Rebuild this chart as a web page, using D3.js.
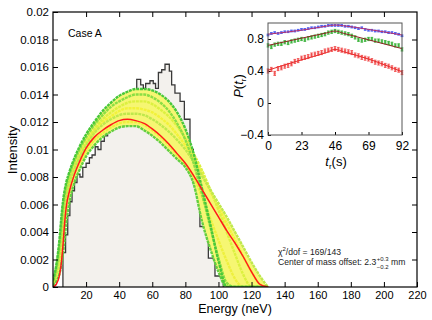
<!DOCTYPE html>
<html>
<head>
<meta charset="utf-8">
<script src="https://cdn.jsdelivr.net/npm/d3@7"></script>
<style>
  body { margin: 0; background: #fff; }
  svg { display: block; font-family: "Liberation Sans", Arial, Helvetica, sans-serif; }
</style>
</head>
<body>
<div id="chart"></div>
<script>
// ---- main plot data ----
var xTicks = [0, 20, 40, 60, 80, 100, 120, 140, 160, 180, 200, 220];
var yTicks = [0, 0.002, 0.004, 0.006, 0.008, 0.01, 0.012, 0.014, 0.016, 0.018, 0.02];
var yTickLabels = ["0", "0.002", "0.004", "0.006", "0.008", "0.01", "0.012", "0.014", "0.016", "0.018", "0.02"];

// measured histogram: bin edges (neV) and intensity per bin
var binEdges = [6, 7.6, 8.9, 10.2, 11.5, 13, 14.5, 16.3, 18, 20, 22, 23.6, 25.5, 27.2, 29, 31, 33, 35, 37, 39, 41, 43, 45, 47, 49,
  50.6, 53, 54.6, 56, 58.6, 60.6, 62, 63.7, 65.7, 67.7, 70.3, 71.7, 73.7, 76.8, 79.4, 82.8, 84.8, 88.8, 93.9, 97.9, 102.9];
var binValues = [0.0025, 0.0038, 0.0052, 0.0062, 0.0070, 0.0076, 0.0082, 0.0080, 0.0087, 0.0090, 0.0094, 0.0096, 0.0102, 0.0100,
  0.0106, 0.0110, 0.0114, 0.0118, 0.0123, 0.0127, 0.0131, 0.0134, 0.0138, 0.0140,
  0.0143, 0.0151, 0.0147, 0.01445, 0.0148, 0.0150, 0.0148, 0.01445, 0.0156, 0.0158, 0.0162, 0.0157, 0.0147, 0.0141, 0.0135,
  0.0122, 0.0100, 0.0076, 0.0044, 0.0021, 0.0008];

// simulated spectra (band of fits), sampled at these energies
var bandE = [0, 2, 4, 5, 6, 7, 8, 10, 13, 16, 20, 25, 30, 35, 40, 45, 50, 55, 60, 65, 70, 75, 80, 85, 90, 95, 100, 105, 110, 115, 120, 125, 130];
var yMid = [0.0003, 0.0011, 0.0026, 0.0037, 0.0050, 0.0060, 0.0067, 0.0077, 0.0087, 0.0095, 0.0104, 0.0113, 0.0120, 0.0124, 0.0128, 0.0130, 0.0130, 0.0129, 0.0127, 0.0123, 0.0118, 0.0111, 0.0103, 0.0093, 0.0082, 0.0070, 0.0058, 0.0046, 0.0034, 0.0022, 0.0011, 0.0002, 0];
var yHigh = [0.0003, 0.0012, 0.0028, 0.0040, 0.0053, 0.0063, 0.0070, 0.0079, 0.0089, 0.0097, 0.0106, 0.0115, 0.0122, 0.0127, 0.0131, 0.0134, 0.0135, 0.0135, 0.0133, 0.0129, 0.0124, 0.0117, 0.0108, 0.0097, 0.0085, 0.0071, 0.0056, 0.0040, 0.0024, 0.0009, 0, 0, 0];
var yLow = [0.0002, 0.0008, 0.0020, 0.0030, 0.0042, 0.0054, 0.0062, 0.0072, 0.0083, 0.0090, 0.0099, 0.0107, 0.0112, 0.0116, 0.0119, 0.0120, 0.0120, 0.0118, 0.0114, 0.0109, 0.0103, 0.0096, 0.0089, 0.0080, 0.0066, 0.0050, 0.0034, 0.0019, 0.0006, 0, 0, 0, 0];
var yLate = [0.0002, 0.0010, 0.0024, 0.0035, 0.0048, 0.0058, 0.0065, 0.0075, 0.0086, 0.0094, 0.0103, 0.0112, 0.0118, 0.0122, 0.0125, 0.0126, 0.0126, 0.0125, 0.0122, 0.0118, 0.0113, 0.0107, 0.0100, 0.0091, 0.0081, 0.0071, 0.0061, 0.0051, 0.0040, 0.0029, 0.0018, 0.0008, 0];
var gMid = [0.0004, 0.0014, 0.0032, 0.0045, 0.0058, 0.0067, 0.0073, 0.0082, 0.0092, 0.0100, 0.0109, 0.0118, 0.0125, 0.0131, 0.0135, 0.0138, 0.0140, 0.0140, 0.0138, 0.0134, 0.0128, 0.0119, 0.0107, 0.0090, 0.0068, 0.0044, 0.0021, 0.0003, 0, 0, 0, 0, 0];
var gLow = [0.0001, 0.0004, 0.0010, 0.0016, 0.0024, 0.0034, 0.0046, 0.0062, 0.0076, 0.0085, 0.0095, 0.0103, 0.0109, 0.0113, 0.0116, 0.0117, 0.0117, 0.0114, 0.0110, 0.0105, 0.0099, 0.0093, 0.0087, 0.0075, 0.0048, 0.0028, 0.0011, 0, 0, 0, 0, 0, 0];
var gHigh = [0.0005, 0.0016, 0.0036, 0.0050, 0.0062, 0.0070, 0.0076, 0.0084, 0.0094, 0.0102, 0.0111, 0.0120, 0.0128, 0.0134, 0.0139, 0.0142, 0.0144, 0.0144, 0.0143, 0.0140, 0.0135, 0.0127, 0.0115, 0.0097, 0.0072, 0.0046, 0.0019, 0, 0, 0, 0, 0, 0];
var bestFit = [0, 0.0002, 0.0009, 0.0017, 0.0030, 0.0046, 0.0058, 0.0070, 0.0082, 0.0091, 0.0101, 0.0109, 0.0114, 0.0118, 0.0121, 0.0122, 0.0121, 0.0119, 0.0115, 0.0110, 0.0104, 0.0097, 0.0090, 0.0081, 0.0071, 0.0061, 0.0051, 0.0041, 0.0032, 0.0022, 0.0011, 0.0002, 0];

// ---- inset data ----
var insetXTicks = [0, 23, 46, 69, 92];
var insetYTicks = [-0.4, 0, 0.4, 0.8];
var insetYLabels = ["\u22120.4", "0", "0.4", "0.8"];
var tSec = [0, 2.3, 4.6, 6.9, 9.2, 11.5, 13.8, 16.1, 18.4, 20.7, 23, 25.3, 27.6, 29.9, 32.2, 34.5, 36.8, 39.1, 41.4, 43.7, 46,
  48.3, 50.6, 52.9, 55.2, 57.5, 59.8, 62.1, 64.4, 66.7, 69, 71.3, 73.6, 75.9, 78.2, 80.5, 82.8, 85.1, 87.4, 89.7, 92];
var pBlue = [0.85, 0.87, 0.88, 0.87, 0.88, 0.89, 0.89, 0.90, 0.90, 0.91, 0.92, 0.92, 0.93, 0.94, 0.94, 0.95, 0.96, 0.96, 0.97, 0.97, 0.97,
  0.97, 0.97, 0.96, 0.96, 0.95, 0.94, 0.93, 0.94, 0.92, 0.91, 0.91, 0.90, 0.90, 0.89, 0.89, 0.88, 0.88, 0.87, 0.86, 0.84];
var pGreen = [0.72, 0.70, 0.73, 0.74, 0.74, 0.76, 0.75, 0.77, 0.78, 0.79, 0.80, 0.79, 0.81, 0.82, 0.83, 0.84, 0.85, 0.86, 0.88, 0.89, 0.90,
  0.89, 0.88, 0.87, 0.86, 0.84, 0.82, 0.79, 0.78, 0.79, 0.80, 0.80, 0.78, 0.78, 0.77, 0.76, 0.75, 0.74, 0.72, 0.72, 0.67];
var pRed = [0.40, 0.42, 0.37, 0.43, 0.44, 0.46, 0.47, 0.49, 0.52, 0.53, 0.56, 0.57, 0.58, 0.60, 0.61, 0.62, 0.63, 0.65, 0.66, 0.67, 0.68,
  0.67, 0.66, 0.65, 0.64, 0.63, 0.60, 0.59, 0.57, 0.56, 0.55, 0.53, 0.51, 0.50, 0.49, 0.47, 0.46, 0.44, 0.42, 0.41, 0.38];
var errBlue = 0.01, errGreen = 0.02, errRed = 0.025;
var fitT = [0, 23, 40, 46, 52, 69, 92];
var fitBlue = [0.86, 0.91, 0.96, 0.975, 0.965, 0.92, 0.85];
var fitGreen = [0.72, 0.81, 0.875, 0.90, 0.87, 0.79, 0.68];
var fitRed = [0.41, 0.54, 0.63, 0.67, 0.64, 0.55, 0.39];

var width = 432, height = 320;
var svg = d3.select("#chart").append("svg")
    .attr("width", width)
    .attr("height", height);

var x = d3.scaleLinear().domain([0, 220]).range([53, 417]);
var y = d3.scaleLinear().domain([0, 0.02]).range([287, 12]);

var plot = svg.append("g");

// clip to frame
svg.append("clipPath").attr("id", "frame")
  .append("rect").attr("x", 53).attr("y", 12).attr("width", 364).attr("height", 275);

// histogram
var histPts = [[binEdges[0], 0]];
binValues.forEach(function(v, i) { histPts.push([binEdges[i], v]); });
histPts.push([binEdges[binEdges.length - 1], 0]);

plot.append("path")
    .datum(histPts)
    .attr("fill", "#f3f1ed")
    .attr("d", d3.area().curve(d3.curveStepAfter)
      .x(function(d) { return x(d[0]); })
      .y0(y(0))
      .y1(function(d) { return y(d[1]); }));
plot.append("path")
    .datum(histPts)
    .attr("fill", "none")
    .attr("stroke", "#3a3a3a")
    .attr("stroke-width", 1.3)
    .attr("d", d3.line().curve(d3.curveStepAfter)
      .x(function(d) { return x(d[0]); })
      .y(function(d) { return y(d[1]); }));

// band of fits
var band = [
  { v: yMid, c: "#f2f23a" },
  { v: yHigh, c: "#dcf040" },
  { v: yLow, c: "#eef03e" },
  { v: yLate, c: "#bfe84c" },
  { v: gMid, c: "#8ade44" },
  { v: gLow, c: "#62cf40" },
  { v: gHigh, c: "#48c83a" }
];

var bandG = plot.append("g").attr("clip-path", "url(#frame)");

bandG.append("path")
    .datum(bandE)
    .attr("fill", "#f6f672")
    .attr("d", d3.area().curve(d3.curveMonotoneX)
      .x(function(d) { return x(d); })
      .y0(function(d, i) { return y(d3.min(band, function(b) { return b.v[i]; })); })
      .y1(function(d, i) { return y(d3.max(band, function(b) { return b.v[i]; })); }));

var bandLine = function(vals) {
  return d3.line().curve(d3.curveMonotoneX)
    .x(function(d) { return x(d); })
    .y(function(d, i) { return y(vals[i]); })(bandE);
};

bandG.selectAll(".fitcurve")
    .data(band)
    .enter().append("path")
    .attr("class", "fitcurve")
    .attr("fill", "none")
    .attr("stroke", function(d) { return d.c; })
    .attr("stroke-width", 2.4)
    .attr("stroke-dasharray", "3,0.8")
    .attr("d", function(d) { return bandLine(d.v); });

bandG.append("path")
    .attr("fill", "none")
    .attr("stroke", "#ff1a1a")
    .attr("stroke-width", 1.5)
    .attr("d", bandLine(bestFit));

// axes (ticks inward)
var axisFont = function(g, size) {
  g.select(".domain").remove();
  g.selectAll("text").attr("font-size", size).attr("fill", "#000")
    .attr("font-family", "'Liberation Sans', Arial, Helvetica, sans-serif");
  g.selectAll("line").attr("stroke", "#000");
};

svg.append("g")
    .attr("transform", "translate(0,287)")
    .call(d3.axisBottom(x).tickValues(xTicks.slice(1)).tickSize(-5).tickPadding(4))
    .call(axisFont, 11);
svg.append("g")
    .attr("transform", "translate(0,12)")
    .call(d3.axisTop(x).tickValues(xTicks.slice(1, -1)).tickSize(-5).tickFormat(""))
    .call(axisFont, 11);
svg.append("g")
    .attr("transform", "translate(53,0)")
    .call(d3.axisLeft(y).tickValues(yTicks).tickSize(-5).tickPadding(4)
      .tickFormat(function(d, i) { return yTickLabels[i]; }))
    .call(axisFont, 11.5);
svg.append("g")
    .attr("transform", "translate(417,0)")
    .call(d3.axisRight(y).tickValues(yTicks.slice(1, -1)).tickSize(-5).tickFormat(""))
    .call(axisFont, 11);

svg.append("rect")
    .attr("x", 53).attr("y", 12).attr("width", 364).attr("height", 275)
    .attr("fill", "none").attr("stroke", "#000").attr("stroke-width", 1.2);

// axis titles
svg.append("text")
    .attr("x", 235).attr("y", 313)
    .attr("text-anchor", "middle")
    .attr("font-size", 12.5)
    .text("Energy (neV)");
svg.append("text")
    .attr("transform", "translate(17,150) rotate(-90)")
    .attr("text-anchor", "middle")
    .attr("font-size", 13)
    .text("Intensity");

svg.append("text")
    .attr("x", 68).attr("y", 37)
    .attr("font-size", 10.5)
    .text("Case A");

// fit summary
var note = svg.append("g").attr("font-size", 8.6).attr("fill", "#222");
var chi = note.append("text").attr("x", 278).attr("y", 255);
chi.append("tspan").text("\u03c7");
chi.append("tspan").attr("font-size", 6).attr("dy", -3.8).text("2");
chi.append("tspan").attr("dy", 3.8).text("/dof = 169/143");

var com = note.append("text").attr("x", 278).attr("y", 265).text("Center of mass offset: 2.3");
var comX = 278 + com.node().getComputedTextLength() + 0.5;
var sup = note.append("text").attr("x", comX).attr("y", 260.8).attr("font-size", 6).text("+0.3");
var sub = note.append("text").attr("x", comX).attr("y", 268.8).attr("font-size", 6).text("\u22120.2");
var scriptW = Math.max(sup.node().getComputedTextLength(), sub.node().getComputedTextLength());
note.append("text").attr("x", comX + scriptW + 2.5).attr("y", 265).text("mm");

// ---- inset ----
var ix = d3.scaleLinear().domain([0, 92]).range([268, 402]);
var iy = d3.scaleLinear().domain([-0.4, 1.0]).range([135, 23]);
var inset = svg.append("g");

inset.append("rect")
    .attr("x", 268).attr("y", 23).attr("width", 134).attr("height", 112)
    .attr("fill", "#fff");

inset.append("g")
    .attr("transform", "translate(0,135)")
    .call(d3.axisBottom(ix).tickValues(insetXTicks).tickSize(-3).tickPadding(6))
    .call(axisFont, 12);
inset.append("g")
    .attr("transform", "translate(268,0)")
    .call(d3.axisLeft(iy).tickValues(insetYTicks).tickSize(-3).tickPadding(4)
      .tickFormat(function(d, i) { return insetYLabels[i]; }))
    .call(axisFont, 12);

var series = [
  { p: pRed, e: errRed, c: "#f04444", fit: fitRed, fc: "#e82c2c" },
  { p: pGreen, e: errGreen, c: "#33b033", fit: fitGreen, fc: "#8e2222" },
  { p: pBlue, e: errBlue, c: "#4b5cf2", fit: fitBlue, fc: "#b8306a" }
];

series.forEach(function(s) {
  var g = inset.append("g");
  g.selectAll(".eb").data(tSec).enter().append("path")
    .attr("fill", "none").attr("stroke", s.c).attr("stroke-width", 0.9)
    .attr("d", function(t, i) {
      var cx = ix(t), y0 = iy(s.p[i] - s.e), y1 = iy(s.p[i] + s.e);
      return "M" + (cx - 1.3) + "," + y0 + "H" + (cx + 1.3) + "M" + cx + "," + y0 + "V" + y1 +
        "M" + (cx - 1.3) + "," + y1 + "H" + (cx + 1.3);
    });
  g.selectAll(".pt").data(tSec).enter().append("rect")
    .attr("x", function(t) { return ix(t) - 1.2; })
    .attr("y", function(t, i) { return iy(s.p[i]) - 1.2; })
    .attr("width", 2.4).attr("height", 2.4)
    .attr("fill", s.c).attr("fill-opacity", 0.7);
  g.append("path")
    .attr("fill", "none").attr("stroke", s.fc).attr("stroke-width", 1)
    .attr("d", d3.line().curve(d3.curveMonotoneX)
      .x(function(t) { return ix(t); })
      .y(function(t, i) { return iy(s.fit[i]); })(fitT));
});

inset.append("rect")
    .attr("x", 268).attr("y", 23).attr("width", 134).attr("height", 112)
    .attr("fill", "none").attr("stroke", "#555").attr("stroke-width", 1);

var pl = inset.append("text")
    .attr("transform", "translate(243,86) rotate(-90)")
    .attr("text-anchor", "middle")
    .attr("font-size", 13);
pl.append("tspan").attr("font-style", "italic").text("P");
pl.append("tspan").text("(");
pl.append("tspan").attr("font-style", "italic").text("t");
pl.append("tspan").attr("font-size", 8).attr("dy", 3).text("r");
pl.append("tspan").attr("dy", -3).text(")");

var tl = inset.append("text")
    .attr("x", 336).attr("y", 166)
    .attr("text-anchor", "middle")
    .attr("font-size", 13);
tl.append("tspan").attr("font-style", "italic").text("t");
tl.append("tspan").attr("font-size", 8).attr("dy", 3).text("r");
tl.append("tspan").attr("dy", -3).text("(s)");
</script>
</body>
</html>
